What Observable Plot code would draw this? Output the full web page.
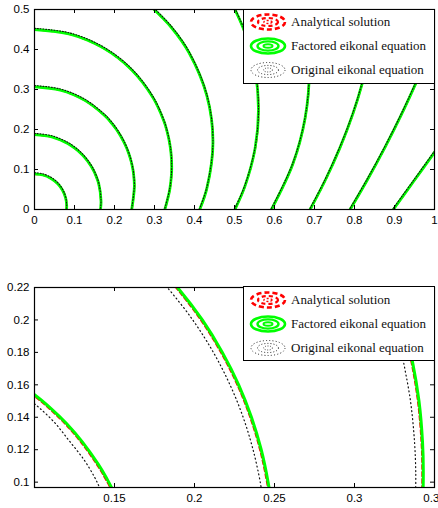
<!DOCTYPE html>
<html><head><meta charset="utf-8">
<script src="https://cdn.jsdelivr.net/npm/d3@7"></script>
<script src="https://cdn.jsdelivr.net/npm/@observablehq/plot@0.6"></script>
<style>
html,body{margin:0;padding:0;background:#fff;}
body{width:438px;height:508px;overflow:hidden;position:relative;font-family:"Liberation Sans",Arial,sans-serif;}
.panel{position:absolute;left:0;}
.legend{position:absolute;background:#fff;border:1.5px solid #000;box-sizing:border-box;}
.legend span{font-family:"Liberation Serif","DejaVu Serif",serif;font-size:13px;color:#111;}
.row{position:absolute;left:4px;height:22px;display:flex;align-items:center;white-space:nowrap;}
.row svg{margin-right:3px;}
</style></head><body>
<div id="top" class="panel" style="top:0px"></div>
<div id="bottom" class="panel" style="top:278px"></div>
<script>
// ---- tick values and labels ----
const topXTicks = [0,0.1,0.2,0.3,0.4,0.5,0.6,0.7,0.8,0.9,1];
const topXLabels = ["0","0.1","0.2","0.3","0.4","0.5","0.6","0.7","0.8","0.9","1"];
const topYTicks = [0,0.1,0.2,0.3,0.4,0.5];
const topYLabels = ["0","0.1","0.2","0.3","0.4","0.5"];
const botXTicks = [0.15,0.2,0.25,0.3,0.35];
const botXLabels = ["0.15","0.2","0.25","0.3","0.35"];
const botYTicks = [0.1,0.12,0.14,0.16,0.18,0.2,0.22];
const botYLabels = ["0.1","0.12","0.14","0.16","0.18","0.2","0.22"];

const seriesNames = ["Analytical solution","Factored eikonal equation","Original eikonal equation"];

// ---- traveltime contours (analytical; factored solution coincides) ----
const c1 = [[0,0.089],[0.0208,0.0863],[0.0403,0.0782],[0.0569,0.0654],[0.0697,0.0488],[0.0778,0.0293],[0.0805,0.0085],[0.0800,0]];
const c2 = [[0,0.1873],[0.043,0.1816],[0.0832,0.165],[0.1,0.1539],[0.11,0.1457],[0.12,0.1362],[0.13,0.1247],[0.14,0.1108],[0.145,0.1025],[0.15,0.0928],[0.1606,0.064],[0.1663,0.021],[0.165,0]];
const c3 = [[0,0.3069],[0.0646,0.2984],[0.1249,0.2734],[0.1766,0.2338],[0.1894,0.22],[0.2049,0.2],[0.2174,0.18],[0.2276,0.16],[0.2356,0.14],[0.2417,0.12],[0.246,0.1],[0.2475,0.09],[0.2497,0.0572],[0.2431,0]];
const c4 = [[0,0.45],[0.0888,0.4383],[0.1715,0.404],[0.2425,0.3495],[0.297,0.2785],[0.3239,0.22],[0.3301,0.2],[0.3361,0.175],[0.3403,0.15],[0.3425,0.125],[0.343,0.107],[0.3426,0.09],[0.3382,0.05],[0.3259,0]];
const c5 = [[0.299,0.5],[0.3418,0.4556],[0.3864,0.3919],[0.431,0.2843],[0.4462,0.1688],[0.431,0.0533],[0.413,0]];
const c6 = [[0.501,0.5],[0.5262,0.4415],[0.5515,0.3472],[0.56,0.25],[0.5515,0.1528],[0.5262,0.0585],[0.501,0]];
const c7 = [[0.5924,0],[0.6456,0.113],[0.6766,0.2287],[0.687,0.348],[0.6766,0.4673],[0.67,0.5]];
const c8 = [[0.689,0],[0.7266,0.0725],[0.7643,0.156],[0.7959,0.239],[0.819,0.314],[0.84,0.4],[0.85,0.5]];
const c9 = [[0.789,0],[0.8312,0.0725],[0.8765,0.156],[0.9181,0.239],[0.9527,0.314],[0.989,0.4],[1.01,0.45]];
const c10 = [[0.897,0],[0.9475,0.07],[1.0,0.143],[1.04,0.2]];

// ---- original eikonal contours in the zoomed panel ----
const o2 = [[0.09,0.156],[0.1016,0.147],[0.112,0.1373],[0.1217,0.1255],[0.131,0.1137],[0.1373,0.1035],[0.1405,0.0971],[0.1445,0.0882]];
const o3 = [[0.1736,0.23],[0.183,0.22],[0.1989,0.2],[0.2118,0.18],[0.2222,0.16],[0.2304,0.14],[0.2366,0.12],[0.2411,0.1],[0.2426,0.09]];
const o4 = [[0.326,0.2],[0.3305,0.175],[0.335,0.15],[0.3375,0.125],[0.3383,0.105],[0.3381,0.09]];

const toRows = list => list.flatMap((pts, k) => pts.map(([x, y]) => ({x, y, k})));
const contourRows = toRows([c1,c2,c3,c4,c5,c6,c7,c8,c9,c10]);
const originalZoomRows = toRows([o2,o3,o4]);

function makePanel({xDomain, yDomain, xTicks, xLabels, yTicks, yLabels, height, marginBottom, origRows, origOpts, redOffset, greenWidth, dotDash, dotWidth}) {
  const common = {x: "x", y: "y", z: "k", curve: "catmull-rom", clip: true};
  return Plot.plot({
    width: 438, height, marginLeft: 34, marginRight: 4, marginTop: 9, marginBottom,
    x: {domain: xDomain}, y: {domain: yDomain},
    style: {fontFamily: "'Liberation Sans', Arial, sans-serif", fontSize: "11.5px", color: "#000", background: "transparent", overflow: "visible"},
    marks: [
      Plot.line(contourRows, {...common, stroke: "#ff0000", strokeWidth: 2, strokeDasharray: "4,3", dx: redOffset[0], dy: redOffset[1]}),
      Plot.line(contourRows, {...common, stroke: "#00ff00", strokeWidth: greenWidth}),
      Plot.line(origRows, {...common, stroke: "#111", strokeWidth: dotWidth, strokeDasharray: dotDash, ...origOpts}),
      Plot.frame({stroke: "#000", strokeWidth: 1.2}),
      Plot.tickX(xTicks, {x: d => d, insetTop: 196, stroke: "#000"}),
      Plot.tickX(xTicks, {x: d => d, insetBottom: 196, stroke: "#000"}),
      Plot.tickY(yTicks, {y: d => d, insetRight: 396, stroke: "#000"}),
      Plot.tickY(yTicks, {y: d => d, insetLeft: 396, stroke: "#000"}),
      Plot.axisX(xTicks, {tickSize: 0, tickPadding: 6, tickFormat: d => xLabels[xTicks.indexOf(d)], label: null}),
      Plot.axisY(yTicks, {tickSize: 0, tickPadding: 5, tickFormat: d => yLabels[yTicks.indexOf(d)], label: null})
    ]
  });
}

document.getElementById("top").append(makePanel({
  xDomain: [0, 1], yDomain: [0, 0.5], xTicks: topXTicks, xLabels: topXLabels, yTicks: topYTicks, yLabels: topYLabels,
  height: 239, marginBottom: 30, origRows: contourRows, origOpts: {dy: -1.2}, redOffset: [0, 0], greenWidth: 2.8, dotDash: "1,1.8", dotWidth: 1.1
}));
document.getElementById("bottom").append(makePanel({
  xDomain: [0.1, 0.35], yDomain: [0.0967, 0.22], xTicks: botXTicks, xLabels: botXLabels, yTicks: botYTicks, yLabels: botYLabels,
  height: 230, marginBottom: 21, origRows: originalZoomRows, origOpts: {}, redOffset: [-1, 0.7], greenWidth: 3, dotDash: "1,3", dotWidth: 1.2
}));

// ---- legends ----
const icons = [
  `<svg width="40" height="20" viewBox="0 0 40 20"><ellipse cx="20" cy="10" rx="17" ry="7.5" fill="none" stroke="#ff0000" stroke-width="2.6" stroke-dasharray="5,3"/><ellipse cx="20" cy="10" rx="10" ry="4" fill="none" stroke="#ff0000" stroke-width="2.2" stroke-dasharray="4,3"/><ellipse cx="20" cy="10" rx="4" ry="1.5" fill="none" stroke="#ff0000" stroke-width="1.5" stroke-dasharray="2,2"/></svg>`,
  `<svg width="40" height="20" viewBox="0 0 40 20"><ellipse cx="20" cy="10" rx="17" ry="7.5" fill="none" stroke="#00ff00" stroke-width="2.6"/><ellipse cx="20" cy="10" rx="10.5" ry="4.6" fill="none" stroke="#00ff00" stroke-width="2.4"/><ellipse cx="20" cy="10" rx="4.5" ry="1.8" fill="none" stroke="#00ff00" stroke-width="2"/></svg>`,
  `<svg width="40" height="20" viewBox="0 0 40 20"><ellipse cx="20" cy="10" rx="17" ry="7.5" fill="none" stroke="#222" stroke-width="1" stroke-dasharray="1,2.2"/><ellipse cx="20" cy="10" rx="10.5" ry="4.6" fill="none" stroke="#222" stroke-width="1" stroke-dasharray="1,2"/><ellipse cx="20" cy="10" rx="4.5" ry="2" fill="none" stroke="#444" stroke-width="1" stroke-dasharray="1,1.5"/></svg>`
];
function addLegend(top) {
  const box = document.createElement("div");
  box.className = "legend";
  box.style.left = "243px"; box.style.top = top + "px"; box.style.width = "192px"; box.style.height = "75px";
  seriesNames.forEach((name, i) => {
    const row = document.createElement("div");
    row.className = "row";
    row.style.top = (1.5 + 24 * i) + "px";
    row.innerHTML = icons[i] + `<span>${name}</span>`;
    box.append(row);
  });
  document.body.append(box);
}
addLegend(8.5);
addLegend(286);
</script>
</body></html>
